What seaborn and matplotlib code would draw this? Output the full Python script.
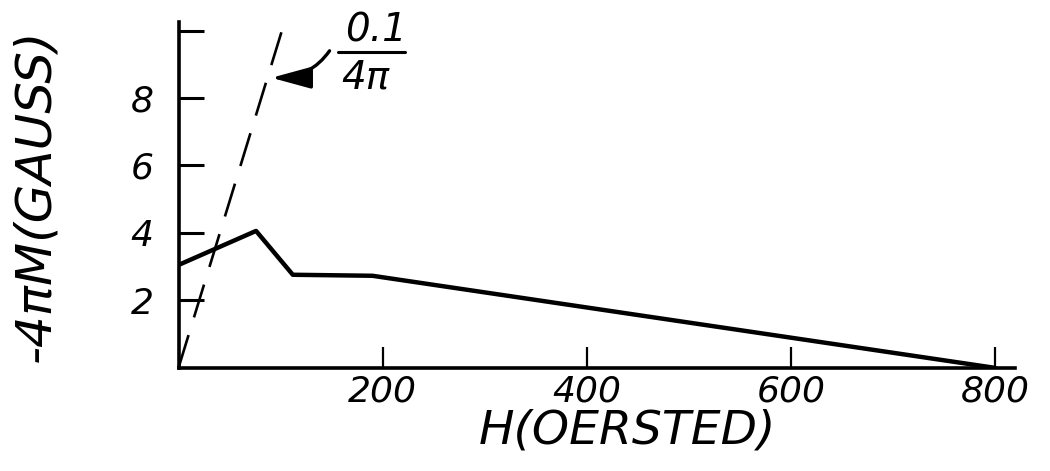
import pandas as pd
import matplotlib.pyplot as plt
import seaborn as sns

# data
h_oersted = [0, 76, 112, 190, 800]
minus_4pi_m = [3.05, 4.06, 2.76, 2.73, 0.0]

# reference slope line 0.1/4pi
slope_h = [0, 106]
slope_m = [0, 10.46]

x_ticks = [200, 400, 600, 800]
y_ticks = [2, 4, 6, 8, 10]
y_tick_labels = ["2", "4", "6", "8", ""]

df = pd.DataFrame({"H": h_oersted, "M": minus_4pi_m})
df_slope = pd.DataFrame({"H": slope_h, "M": slope_m})

sns.set_style("white")
plt.rcParams["font.family"] = ["DejaVu Sans"]
plt.rcParams["font.style"] = "italic"
plt.rcParams["text.color"] = "black"
plt.rcParams["axes.labelcolor"] = "black"

fig = plt.figure(figsize=(10.5, 4.71), dpi=100)
ax = fig.add_axes([0.170, 0.219, 0.797, 0.734])

sns.lineplot(x="H", y="M", data=df, ax=ax, color="black", linewidth=3.2, sort=False)
sns.lineplot(x="H", y="M", data=df_slope, ax=ax, color="black", linewidth=1.9,
             linestyle=(0, (13, 7)), clip_on=False)

ax.set_xlim(0, 820)
ax.set_ylim(0, 10.25)

ax.set_xticks(x_ticks)
ax.set_xticklabels([str(v) for v in x_ticks], fontsize=26, fontstyle="italic", color="black")
ax.set_yticks(y_ticks)
ax.set_yticklabels(y_tick_labels, fontsize=26, fontstyle="italic", color="black")
ax.tick_params(axis="x", bottom=True, direction="in", length=15, width=1.6, pad=5, color="black")
ax.tick_params(axis="y", left=True, direction="in", length=18, width=2.2, pad=18, color="black")

for side in ["top", "right"]:
    ax.spines[side].set_visible(False)
for side in ["left", "bottom"]:
    ax.spines[side].set_linewidth(2.6)
    ax.spines[side].set_color("black")

ax.set_xlabel("H(OERSTED)", fontsize=34, fontstyle="italic", color="black")
ax.xaxis.set_label_coords(0.536, -0.118)
ax.set_ylabel("-4\u03c0M(GAUSS)", fontsize=36, fontstyle="italic", color="black")
ax.yaxis.set_label_coords(-0.142, 0.5)

# 0.1/4pi label with arrow to the dashed line
ax.text(194, 10.0, "0.1", fontsize=28, fontstyle="italic", color="black",
        ha="center", va="center", clip_on=False)
ax.text(183, 8.62, "4\u03c0", fontsize=28, fontstyle="italic", color="black",
        ha="center", va="center", clip_on=False)
ax.plot([156, 222], [9.36, 9.36], color="black", linewidth=2.2, clip_on=False)
ax.annotate("", xy=(91, 8.6), xytext=(148, 9.4),
            arrowprops=dict(arrowstyle="-|>,head_length=1.1,head_width=0.3",
                            connectionstyle="angle3,angleA=55,angleB=0",
                            color="black", linewidth=2.4, mutation_scale=22,
                            shrinkA=0, shrinkB=0))

fig.savefig("out.png", dpi=100)
